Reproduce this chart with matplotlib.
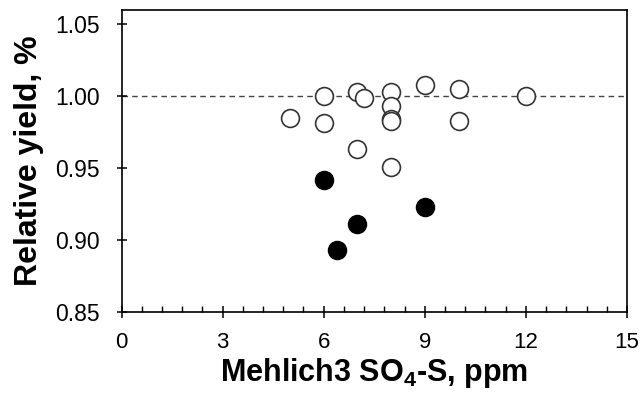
import matplotlib
matplotlib.use("Agg")
import matplotlib.pyplot as plt
from matplotlib.ticker import MultipleLocator, FixedLocator

plt.rcParams['font.family'] = ['Liberation Sans', 'DejaVu Sans']
plt.rcParams['mathtext.fontset'] = 'custom'
plt.rcParams['mathtext.rm'] = 'Liberation Sans'
plt.rcParams['mathtext.bf'] = 'Liberation Sans:bold'

# Open circles (sufficient)
open_x = [5, 6, 6, 7, 7.2, 7, 8, 8, 8, 8, 8, 9, 10, 10, 12]
open_y = [0.985, 1.000, 0.981, 1.003, 0.999, 0.963, 1.003, 0.993, 0.984, 0.983, 0.951, 1.008, 1.005, 0.983, 1.000]
# Filled circles (deficient)
fill_x = [6, 7, 6.4, 9]
fill_y = [0.942, 0.911, 0.893, 0.923]

x_ticks = [0, 3, 6, 9, 12, 15]
y_ticks = [0.85, 0.90, 0.95, 1.00, 1.05]
ref_level = 1.0

fig = plt.figure(figsize=(6.42, 3.98), dpi=100)
ax = fig.add_axes([121.5/642, 1-311.7/398, (627-121.5)/642, (311.7-10)/398])

ax.axhline(ref_level, color='#444444', lw=1.0, ls=(0, (4, 3)), zorder=1)
ax.scatter(open_x, open_y, s=165, facecolors='white', edgecolors='#333333', linewidths=1.2, zorder=3)
ax.scatter(fill_x, fill_y, s=170, facecolors='black', edgecolors='black', linewidths=1.0, zorder=3)

ax.set_xlim(0, 15)
ax.set_ylim(0.85, 1.06)
ax.xaxis.set_major_locator(FixedLocator(x_ticks))
ax.xaxis.set_minor_locator(MultipleLocator(0.6))
ax.yaxis.set_major_locator(FixedLocator(y_ticks))
ax.set_yticklabels([f"{v:.2f}" for v in y_ticks])
ax.set_xticklabels([str(v) for v in x_ticks])

ax.tick_params(axis='x', which='major', direction='inout', length=9, width=1.1, labelsize=16, pad=10)
ax.tick_params(axis='x', which='minor', direction='in', length=4, width=1.0)
ax.tick_params(axis='y', which='major', direction='inout', length=7.5, width=1.1, labelsize=16.5, pad=12)
for sp in ax.spines.values():
    sp.set_linewidth(1.2)
    sp.set_color('black')

ax.set_xlabel(r'Mehlich3 SO$_\mathbf{4}$-S, ppm', fontsize=22, fontweight='bold', labelpad=2)
ax.set_ylabel('Relative yield, %', fontsize=23, fontweight='bold', labelpad=8)

fig.savefig('out.png', dpi=100)
